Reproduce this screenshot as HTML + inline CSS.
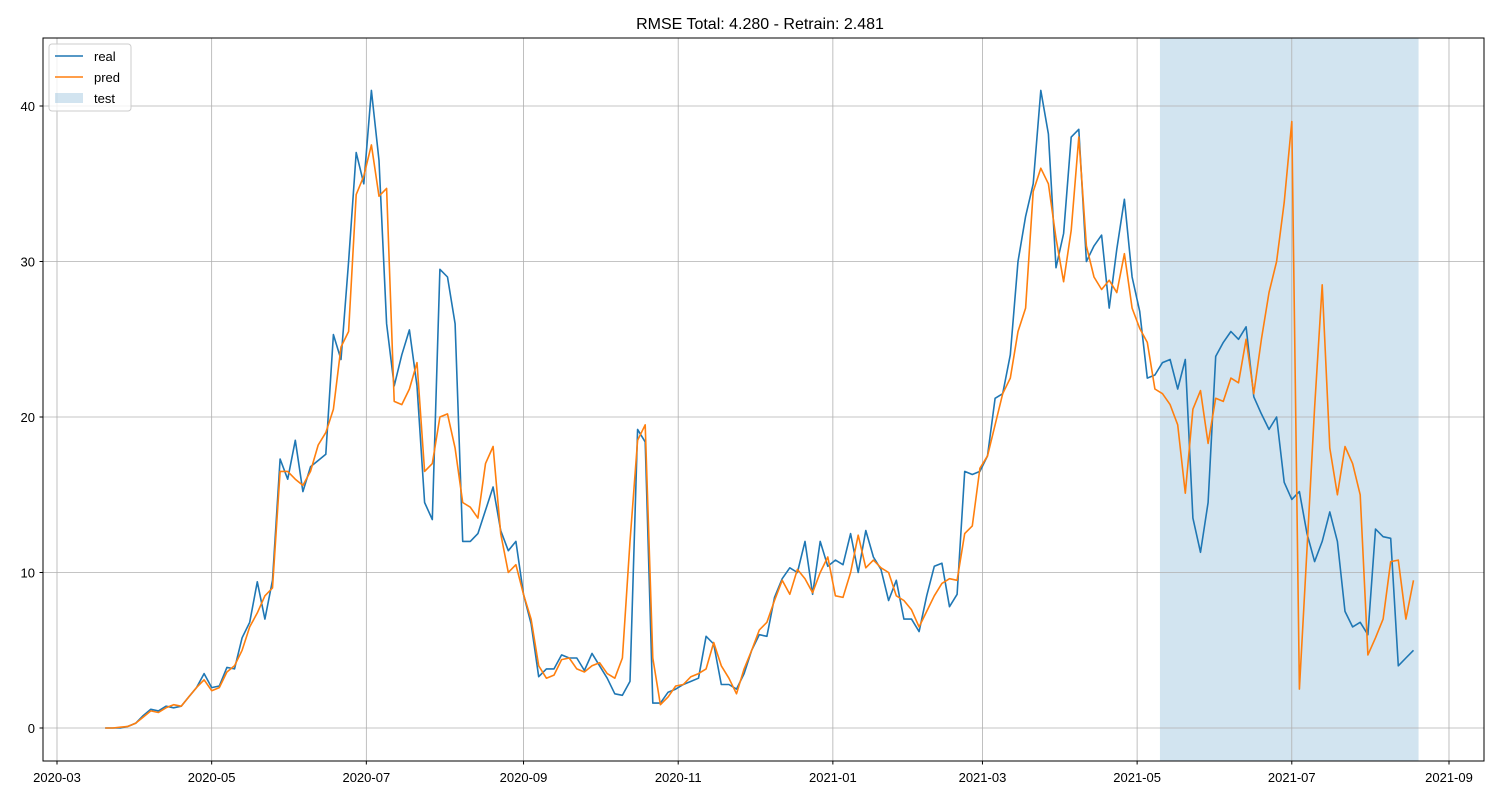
<!DOCTYPE html>
<html><head><meta charset="utf-8"><style>
body{margin:0;background:#fff;}
svg text{font-family:"Liberation Sans","DejaVu Sans",sans-serif;}
</style></head><body>
<svg id="chart" width="1500" height="800" xmlns="http://www.w3.org/2000/svg">
<rect width="1500" height="800" fill="#fff"/>
<text x="760" y="29" font-size="16" text-anchor="middle">RMSE Total: 4.280 - Retrain: 2.481</text>
<g id="span"></g><g id="grid"></g><g id="series"></g>
<rect x="43" y="38" width="1441" height="723" fill="none" stroke="#000" stroke-width="1"/>
<g id="ticks"></g>
<g>
<rect x="49" y="44" width="82" height="67" rx="3" fill="#fff" fill-opacity="0.8" stroke="#ccc"/>
<g><line x1="55" y1="56" x2="83" y2="56" stroke="#1f77b4" stroke-width="1.5"/><text x="94" y="61" font-size="13">real</text></g>
<g><line x1="55" y1="77" x2="83" y2="77" stroke="#ff7f0e" stroke-width="1.5"/><text x="94" y="82" font-size="13">pred</text></g>
<g><rect x="55" y="93" width="28" height="10" fill="#1f77b4" fill-opacity="0.2"/><text x="94" y="103" font-size="13">test</text></g>
</g>
</svg>
<script>
const startDate = "2020-03-20";
const stepDays = 3;
const realValues = [0,0,0,0.1,0.3,0.8,1.2,1.1,1.4,1.3,1.4,2.0,2.6,3.5,2.6,2.7,3.9,3.8,5.8,6.8,9.4,7.0,9.5,17.3,16,18.5,15.2,16.8,17.2,17.6,25.3,23.7,30,37,35,41,36.5,26,22,24,25.6,22,14.5,13.4,29.5,29,26,12,12,12.5,14,15.5,12.7,11.4,12,8.6,6.7,3.3,3.8,3.8,4.7,4.5,4.5,3.7,4.8,4.0,3.2,2.2,2.1,3,19.2,18.4,1.6,1.6,2.3,2.5,2.8,3.0,3.2,5.9,5.4,2.8,2.8,2.5,3.5,5,6,5.9,8.4,9.6,10.3,10,12,8.6,12,10.4,10.8,10.5,12.5,10,12.7,11,10.2,8.2,9.5,7,7,6.2,8.5,10.4,10.6,7.8,8.6,16.5,16.3,16.5,17.5,21.2,21.5,24,30,32.9,35,41,38.2,29.6,31.8,38,38.5,30,31,31.7,27,30.8,34,29,26.8,22.5,22.7,23.5,23.7,21.8,23.7,13.5,11.3,14.5,23.9,24.8,25.5,25,25.8,21.3,20.2,19.2,20,15.8,14.7,15.2,12.5,10.7,12,13.9,12,7.5,6.5,6.8,6,12.8,12.3,12.2,4,4.5,5];
const predValues = [0,0,0.05,0.1,0.3,0.7,1.1,1.0,1.3,1.5,1.4,2.0,2.6,3.1,2.4,2.6,3.6,4.0,5.0,6.5,7.4,8.5,9.0,16.5,16.5,16.0,15.6,16.5,18.2,19.0,20.5,24.5,25.5,34.3,35.5,37.5,34.2,34.7,21,20.8,21.8,23.5,16.5,17,20,20.2,18,14.5,14.2,13.5,17,18.1,12.5,10,10.5,8.6,7,4.0,3.2,3.4,4.4,4.5,3.8,3.6,4.0,4.2,3.5,3.2,4.5,12,18.5,19.5,4.5,1.5,2.0,2.7,2.8,3.3,3.5,3.8,5.5,4.0,3.2,2.2,3.8,5,6.3,6.8,8.2,9.5,8.6,10.2,9.6,8.7,10,11,8.5,8.4,10,12.4,10.3,10.8,10.3,10,8.5,8.2,7.6,6.5,7.5,8.5,9.3,9.6,9.5,12.5,13,16.7,17.5,19.5,21.5,22.5,25.5,27,34.5,36,35,31.5,28.7,32,38,31,29,28.2,28.8,28,30.5,27,25.7,24.8,21.8,21.5,20.8,19.5,15.1,20.5,21.7,18.3,21.2,21,22.5,22.2,25,21.5,25,28,30,33.8,39,2.5,11.5,20.6,28.5,18,15,18.1,17,15,4.7,5.8,7,10.7,10.8,7,9.5];
const yTicks = [0,10,20,30,40];
const xTickLabels = ["2020-03","2020-05","2020-07","2020-09","2020-11","2021-01","2021-03","2021-05","2021-07","2021-09"];
const testStart = "2021-05-10";
const testEnd = "2021-08-20";

const NS = "http://www.w3.org/2000/svg";
const origin = Date.UTC(2020,2,1);
function dayNum(s){const p=s.split("-").map(Number);return (Date.UTC(p[0],p[1]-1,p[2]||1)-origin)/86400000;}
function xScale(d){return 57 + d*2.5355;}
function yScale(v){return 728 - v*15.55;}
function mk(tag,attrs,parent){const e=document.createElementNS(NS,tag);for(const k in attrs)e.setAttribute(k,attrs[k]);parent.appendChild(e);return e;}

const spanG=document.getElementById("span");
const x0=xScale(dayNum(testStart)), x1=xScale(dayNum(testEnd));
const sp=mk("rect",{x:x0,y:38,width:x1-x0,height:723,fill:"#1f77b4","fill-opacity":0.2},spanG);



const grid=document.getElementById("grid"), ticks=document.getElementById("ticks");
yTicks.forEach(v=>{
  const y=yScale(v);
  const g=mk("line",{x1:43,x2:1484,y1:y,y2:y,stroke:"#b0b0b0","stroke-width":0.8},grid);
  
  
  mk("line",{x1:39.5,x2:43,y1:y,y2:y,stroke:"#000"},ticks);
  const t=mk("text",{x:35,y:y+5,"font-size":13,"text-anchor":"end"},ticks);
  t.textContent=v;
  
  
});
xTickLabels.forEach(s=>{
  const x=xScale(dayNum(s));
  const g=mk("line",{x1:x,x2:x,y1:38,y2:761,stroke:"#b0b0b0","stroke-width":0.8},grid);
  
  
  mk("line",{x1:x,x2:x,y1:761,y2:764.5,stroke:"#000"},ticks);
  const t=mk("text",{x:x,y:782,"font-size":13,"text-anchor":"middle"},ticks);
  t.textContent=s;
  
  
});

const s0=dayNum(startDate);
const series=document.getElementById("series");
function drawLine(vals,color,name){
  const pts=vals.map((v,i)=>xScale(s0+i*stepDays).toFixed(1)+","+yScale(v).toFixed(1)).join(" ");
  const p=mk("polyline",{points:pts,fill:"none",stroke:color,"stroke-width":1.6,"stroke-linejoin":"round"},series);
  
  
}
drawLine(realValues,"#1f77b4","real-line");
drawLine(predValues,"#ff7f0e","pred-line");
</script>
</body></html>
